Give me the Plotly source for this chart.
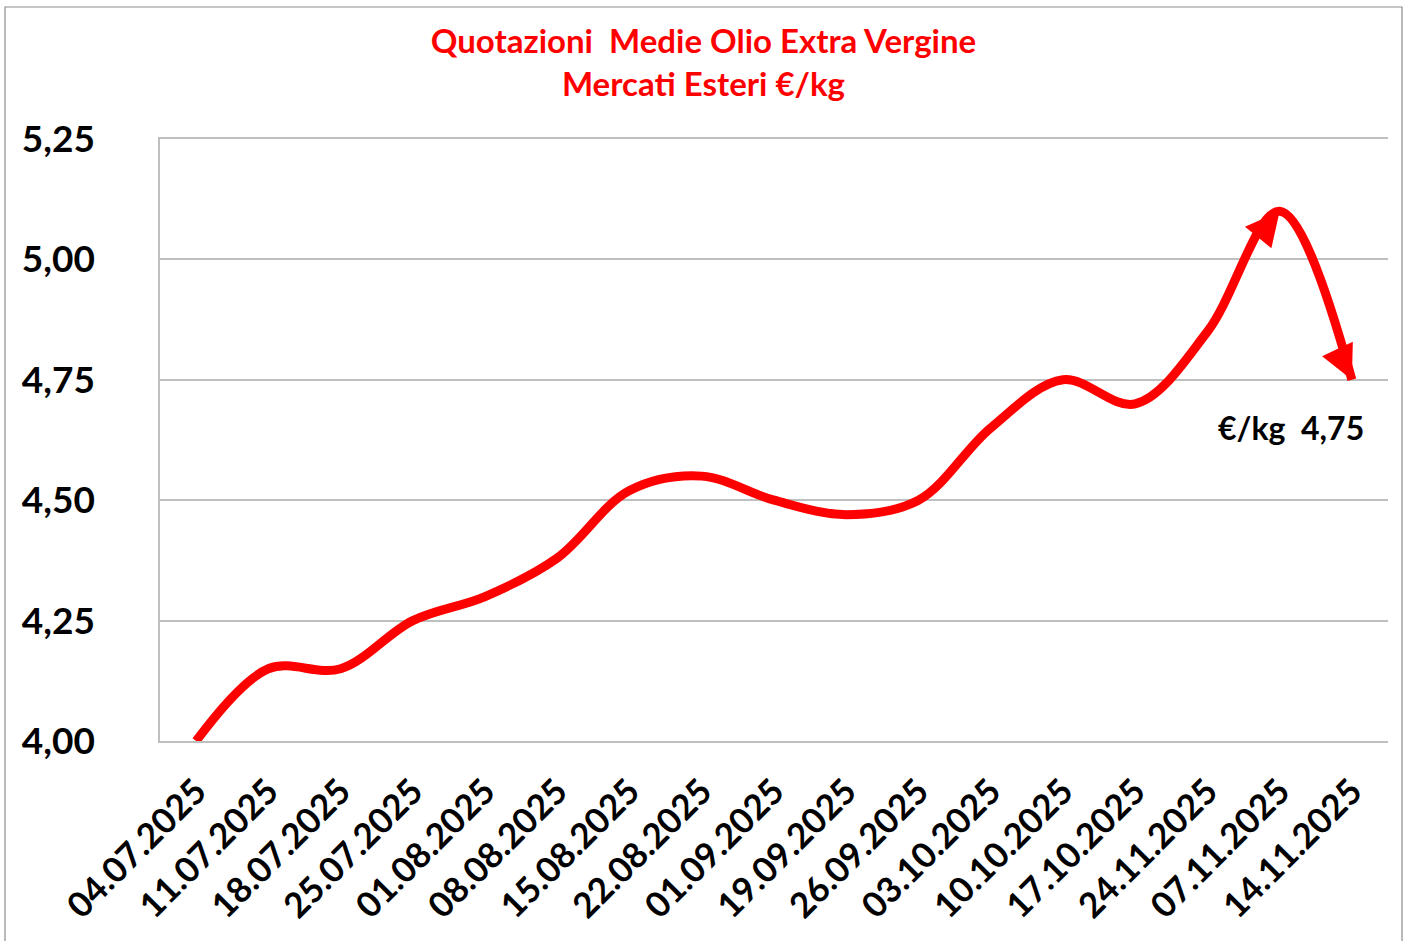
import plotly.graph_objects as go

# ---- data ----
dates = ["04.07.2025", "11.07.2025", "18.07.2025", "25.07.2025", "01.08.2025",
         "08.08.2025", "15.08.2025", "22.08.2025", "01.09.2025", "19.09.2025",
         "26.09.2025", "03.10.2025", "10.10.2025", "17.10.2025", "24.11.2025",
         "07.11.2025", "14.11.2025"]
prices = [4.00, 4.15, 4.15, 4.25, 4.30, 4.38, 4.52, 4.55, 4.50, 4.47,
          4.50, 4.65, 4.75, 4.70, 4.85, 5.10, 4.75]
y_tickvals = [4.00, 4.25, 4.50, 4.75, 5.00, 5.25]
y_ticktext = ["4,00", "4,25", "4,50", "4,75", "5,00", "5,25"]
title_line1 = "Quotazioni\u00a0\u00a0Medie Olio Extra Vergine"
title_line2 = "Mercati Esteri €/kg"
last_label = "€/kg\u00a0\u00a04,75"

RED = "#FF0000"
FONT = "Lato"
GRID = "#BFBFBF"

fig = go.Figure()
fig.add_trace(go.Scatter(
    x=dates, y=prices, mode="lines",
    line=dict(color=RED, width=9, shape="spline", smoothing=1.0),
    hoverinfo="x+y", showlegend=False,
))

# arrowheads at the peak and at the last point
idx_peak = prices.index(max(prices))
fig.add_annotation(x=dates[idx_peak], y=prices[idx_peak], xref="x", yref="y",
                   ax=-22, ay=27, showarrow=True, arrowhead=2, arrowsize=0.85,
                   arrowwidth=8, arrowcolor=RED, standoff=0, text="")
fig.add_annotation(x=dates[-1], y=prices[-1], xref="x", yref="y",
                   ax=-15, ay=-32, showarrow=True, arrowhead=2, arrowsize=0.85,
                   arrowwidth=8, arrowcolor=RED, standoff=0, text="")

# value label
fig.add_annotation(x=dates[-1], y=prices[-1], xref="x", yref="y",
                   text="<b>" + last_label + "</b>", showarrow=False,
                   xanchor="right", yanchor="middle", xshift=14, yshift=-48,
                   font=dict(family=FONT, size=32, color="black"))

# outer chart border
fig.add_shape(type="rect", xref="paper", yref="paper",
              x0=-0.1262, x1=1.0114, y0=-0.34, y1=1.2193,
              line=dict(color="#8C8C8C", width=1.2), fillcolor="rgba(0,0,0,0)",
              layer="below")

fig.update_layout(
    width=1407, height=941,
    margin=dict(l=160, r=19, t=139, b=200),
    paper_bgcolor="white", plot_bgcolor="white",
    title=dict(text="<b>" + title_line1 + "<br>" + title_line2 + "</b>",
               x=0.5, xref="container", xanchor="center",
               y=1 - 53 / 941, yref="container", yanchor="top",
               font=dict(family=FONT, size=33, color=RED)),
    xaxis=dict(type="category", range=[-0.5, len(dates) - 0.5],
               showgrid=False, showline=True, linecolor=GRID, linewidth=1.5,
               mirror=True, ticks="", ticklabelstandoff=14,
               tickangle=-45, tickfont=dict(family=FONT, size=35, color="black"),
               tickprefix="<b>", ticksuffix="</b>", zeroline=False),
    yaxis=dict(range=[4.0, 5.25], tickvals=y_tickvals,
               ticktext=["<b>" + t + "</b>" for t in y_ticktext],
               showgrid=True, gridcolor=GRID, gridwidth=1.5,
               showline=True, linecolor=GRID, linewidth=1.5,
               ticks="", ticklabelstandoff=56, zeroline=False,
               tickfont=dict(family=FONT, size=37, color="black")),
)

fig.write_html("out.html", config={"displayModeBar": False},
               post_script="document.body.style.margin='0';")
